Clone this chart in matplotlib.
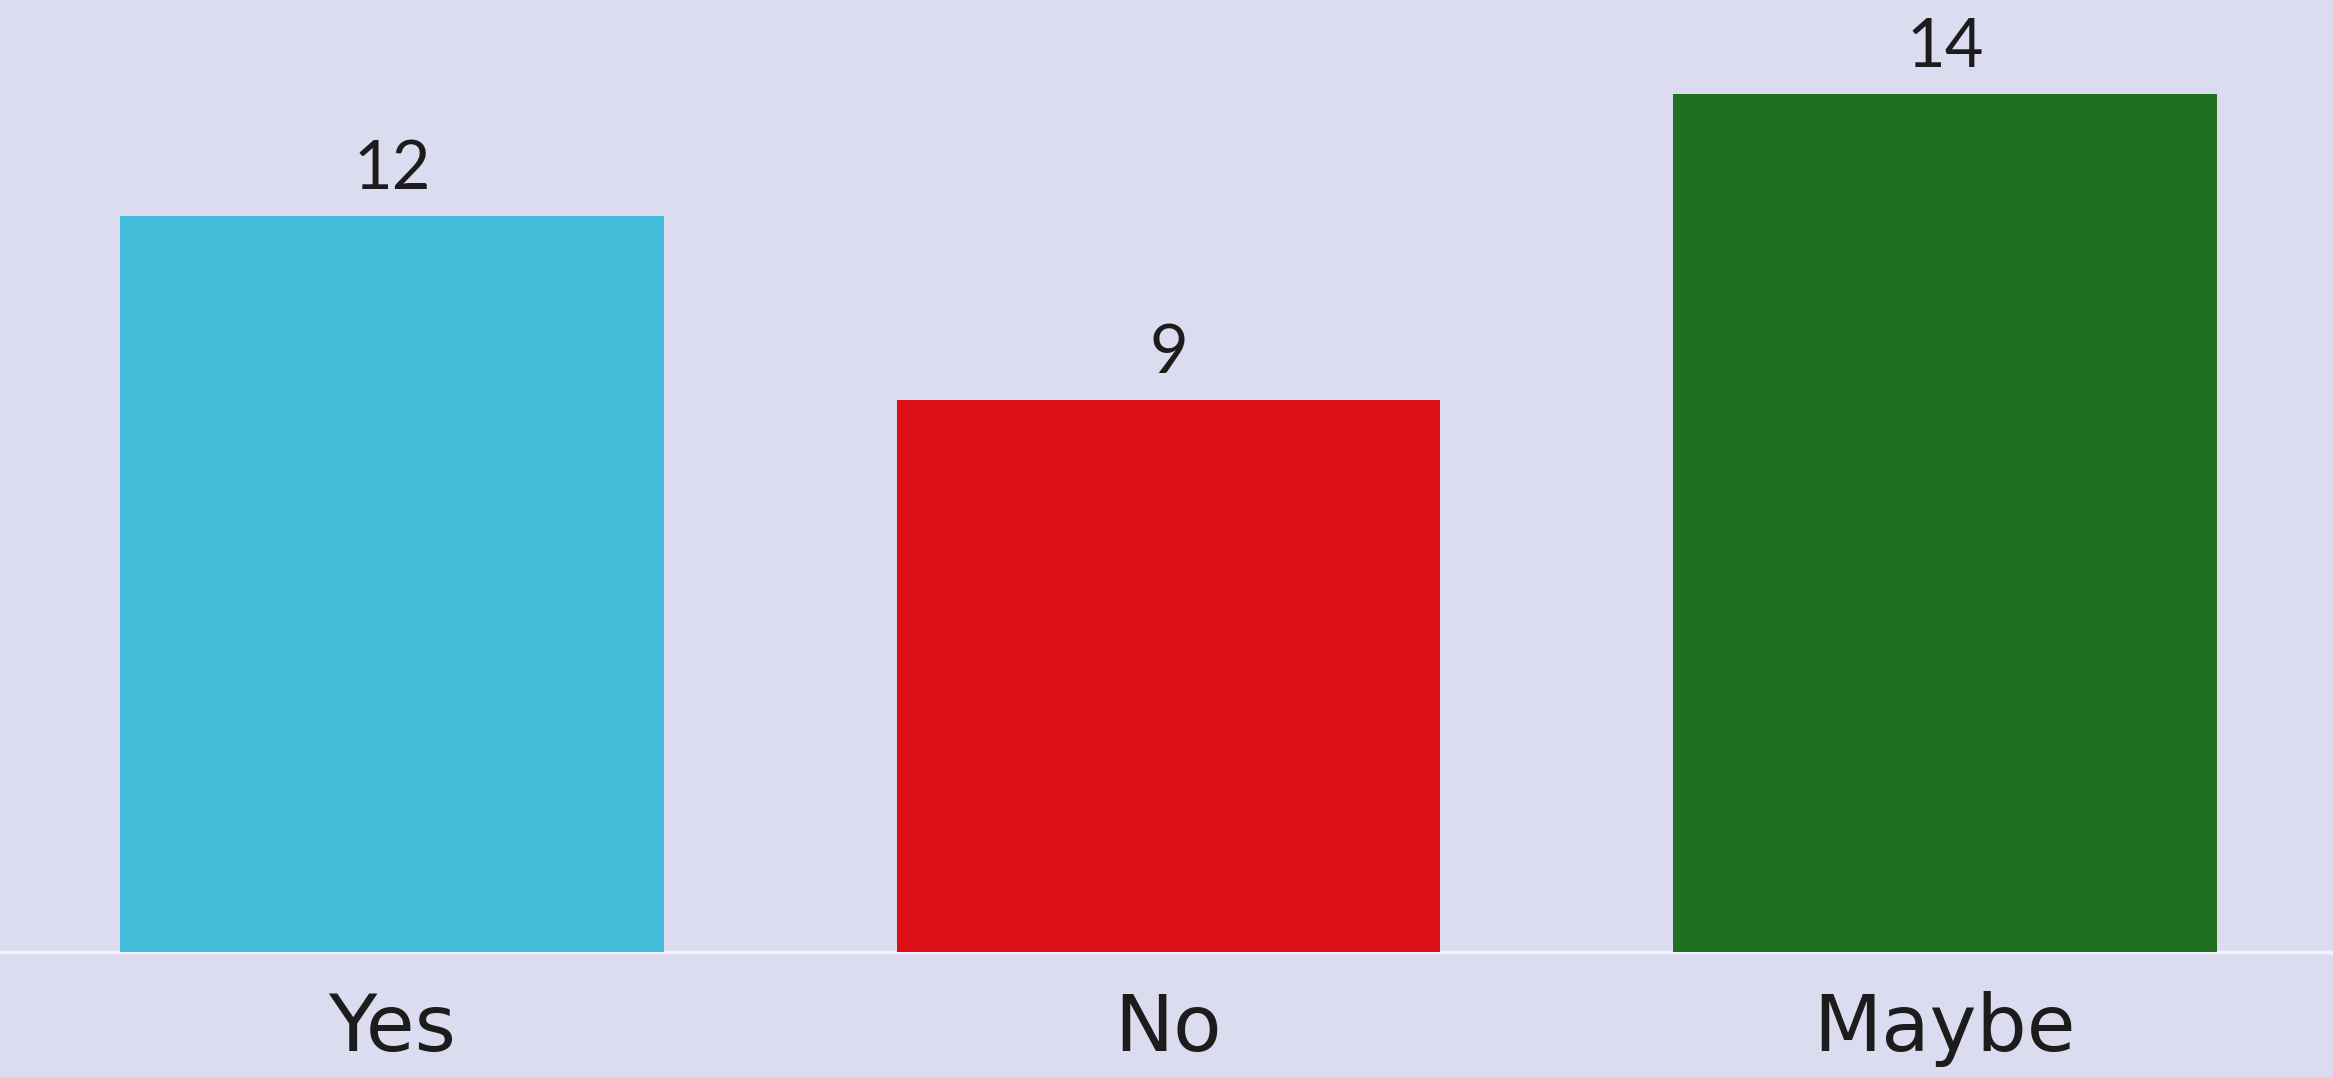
import matplotlib
matplotlib.use('Agg')
import matplotlib.pyplot as plt
import numpy as np

# survey answers
categories = ['Yes', 'No', 'Maybe']
counts = [12, 9, 14]
bar_colors = ['#42BCD9', '#DE0F17', '#216F21']

BG = '#DCDCF0'
TXT = '#1C1C1C'

plt.rcParams['font.family'] = ['DejaVu Sans']

fig = plt.figure(figsize=(23.33, 10.77), dpi=100, facecolor=BG)
ax = fig.add_axes([0, 0.116, 1, 0.884])
ax.set_facecolor(BG)

x = np.arange(len(categories))
bars = ax.bar(x, counts, width=0.7, color=bar_colors, zorder=2)

# value labels above each bar
for b, v in zip(bars, counts):
    ax.annotate(str(v), (b.get_x() + b.get_width() / 2, v),
                xytext=(0, 11), textcoords='offset points',
                ha='center', va='bottom', fontsize=48, color=TXT,
                family=['Lato', 'DejaVu Sans'])

ax.set_xlim(-0.505, 2.5)
ax.set_ylim(0, 15.53)
ax.set_xticks(x)
ax.set_xticklabels(categories, fontsize=57, color=TXT)
ax.tick_params(axis='x', length=0, pad=28)
ax.set_yticks([])

for s in ['top', 'right', 'left']:
    ax.spines[s].set_visible(False)
ax.spines['bottom'].set_color('#F3F3FA')
ax.spines['bottom'].set_linewidth(2.5)
ax.spines['bottom'].set_zorder(1)

fig.savefig('out.png', dpi=100, facecolor=BG)
